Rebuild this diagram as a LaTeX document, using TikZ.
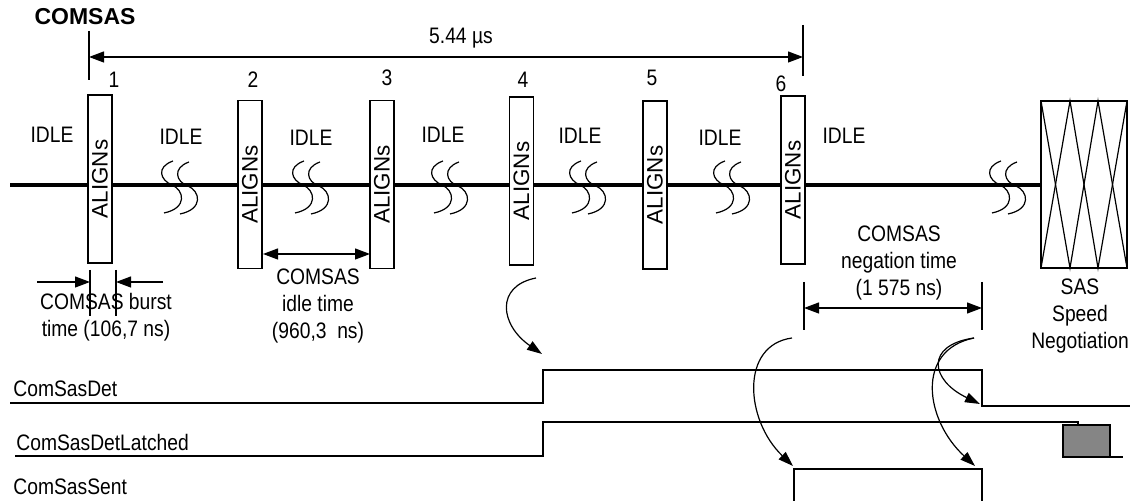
\documentclass[tikz,border=0pt]{standalone}
\usepackage{fontspec}
\setmainfont{Liberation Sans}[FakeStretch=0.86]
\newfontfamily\alignfont{Liberation Sans}
\usepackage{xcolor}
\definecolor{latchGray}{HTML}{858585}
\usetikzlibrary{arrows.meta}

\begin{document}
\begin{tikzpicture}[x=0.5pt, y=-0.5pt, font=\fontsize{11.2}{13.5}\selectfont,
  alignbox/.style={draw, fill=white, rotate=90, minimum width=84pt, minimum height=12pt, inner sep=0pt, line width=0.6pt, font=\alignfont\fontsize{11.2}{13}\selectfont},
  lbl/.style={inner sep=0pt, align=center},
  thin/.style={line width=0.6pt},
  dimarrow/.style={line width=0.6pt, {Triangle[length=7.5pt,width=5.5pt]}-{Triangle[length=7.5pt,width=5.5pt]}},
  inarrow/.style={line width=0.6pt, -{Triangle[length=7.5pt,width=5.5pt]}},
  bendarrow/.style={line width=0.6pt, -{Triangle[length=7.5pt,width=5pt]}},
  signal/.style={line width=0.7pt},
  brk/.pic={
    \draw[line width=0.6pt] (-7,-24) .. controls (-24,-18) and (-20,-5) .. (-8,0) .. controls (4,5) and (8,23) .. (-16,28);
    \draw[line width=0.6pt] (9,-23) .. controls (-8,-17) and (-4,-3) .. (8,1) .. controls (20,6) and (24,24) .. (0,29);
  }]
  \useasboundingbox (0,0) rectangle (1130,501);

  \node[lbl, font=\alignfont\fontsize{11.5}{14}\selectfont\bfseries] (title) at (85,17) {COMSAS};

  \coordinate (t1top) at (89,31);
  \coordinate (t1bot) at (89,80);
  \coordinate (t6top) at (803,25);
  \coordinate (t6bot) at (803,76);
  \coordinate (t1) at (89,57);
  \coordinate (t6) at (803,57);
  \draw[thin] (t1top) -- (t1bot);
  \draw[thin] (t6top) -- (t6bot);
  \draw[dimarrow] (t1) -- (t6);
  \node[lbl] (total) at (461,38) {5.44 µs};

  \coordinate (lineL) at (10,185);
  \coordinate (lineR) at (1041,185);
  \draw[line width=2pt] (lineL) -- (lineR);

  \pic at (180,185) {brk};
  \pic at (311,185) {brk};
  \pic at (450,185) {brk};
  \pic at (588,185) {brk};
  \pic at (732,185) {brk};
  \pic at (1008,185) {brk};

  \node[alignbox] (A1) at (100,179) {ALIGNs};
  \node[alignbox] (A2) at (250,184.5) {ALIGNs};
  \node[alignbox] (A3) at (382,184.5) {ALIGNs};
  \node[alignbox] (A4) at (521.5,181) {ALIGNs};
  \node[alignbox] (A5) at (655,185) {ALIGNs};
  \node[alignbox] (A6) at (793,180) {ALIGNs};

  \node[lbl] (n1) at (114,80) {1};
  \node[lbl] (n2) at (253,80) {2};
  \node[lbl] (n3) at (387,78) {3};
  \node[lbl] (n4) at (523,80) {4};
  \node[lbl] (n5) at (652,78) {5};
  \node[lbl] (n6) at (781,84) {6};

  \node[lbl] (idle0) at (52,135) {IDLE};
  \node[lbl] (idle1) at (181,137) {IDLE};
  \node[lbl] (idle2) at (311,138) {IDLE};
  \node[lbl] (idle3) at (443,135) {IDLE};
  \node[lbl] (idle4) at (580,136) {IDLE};
  \node[lbl] (idle5) at (720,138) {IDLE};
  \node[lbl] (idle6) at (844,136) {IDLE};

  \draw[thin] (1041,101) rectangle (1127,268);
  \draw[thin] (1041,101) -- (1070,268) -- (1098,101) -- (1127,268);
  \draw[thin] (1041,268) -- (1070,101) -- (1098,268) -- (1127,101);
  \node[lbl] (sas) at (1080,316) {SAS\\Speed\\Negotiation};

  \coordinate (b1top) at (90,270);
  \coordinate (b1bot) at (90,316);
  \coordinate (b2top) at (116,270);
  \coordinate (b2bot) at (116,316);
  \coordinate (b1) at (90,282);
  \coordinate (b2) at (116,282);
  \coordinate (b1out) at (37,282);
  \coordinate (b2out) at (163,282);
  \draw[thin] (b1top) -- (b1bot);
  \draw[thin] (b2top) -- (b2bot);
  \draw[inarrow] (b1out) -- (b1);
  \draw[inarrow] (b2out) -- (b2);
  \node[lbl] (burst) at (106,317) {COMSAS burst\\time (106,7 ns)};

  \coordinate (i1) at (263,254);
  \coordinate (i2) at (370,254);
  \draw[dimarrow] (i1) -- (i2);
  \node[lbl] (idle) at (318,306) {COMSAS\\idle time\\(960,3~~ns)};

  \coordinate (g1top) at (804,282);
  \coordinate (g1bot) at (804,330);
  \coordinate (g2top) at (982,282);
  \coordinate (g2bot) at (982,330);
  \coordinate (g1) at (804,308);
  \coordinate (g2) at (982,308);
  \draw[thin] (g1top) -- (g1bot);
  \draw[thin] (g2top) -- (g2bot);
  \draw[dimarrow] (g1) -- (g2);
  \node[lbl] (neg) at (899,263) {COMSAS\\negation time\\(1 575 ns)};

  \node[lbl, anchor=west] (det) at (13,389) {ComSasDet};
  \node[lbl, anchor=west] (latched) at (16,442) {ComSasDetLatched};
  \node[lbl, anchor=west] (sent) at (13,487) {ComSasSent};

  \draw[signal] (10,403) -- (543,403) -- (543,370) -- (982,370) -- (982,406) -- (1130,406);
  \draw[signal] (15,456) -- (543,456) -- (543,422) -- (1078,422) -- (1078,426);
  \draw[signal, fill=latchGray] (1063,425) rectangle (1110,457);
  \draw[signal] (1110,457) -- (1123,457);
  \draw[signal] (794,501) -- (794,469) -- (982,469) -- (982,501);

  \coordinate (c1s) at (536,278);
  \coordinate (c1e) at (542,354);
  \coordinate (c2s) at (792,338);
  \coordinate (c2e) at (793,466);
  \coordinate (c3s) at (974,338);
  \coordinate (c3e) at (980,404);
  \coordinate (c4e) at (975,466);
  \draw[bendarrow] (c1s) .. controls (495,286) and (500,325) .. (c1e);
  \draw[bendarrow] (c2s) .. controls (740,345) and (745,420) .. (c2e);
  \draw[bendarrow] (c3s) .. controls (925,345) and (930,380) .. (c3e);
  \draw[bendarrow] (c3s) .. controls (915,350) and (925,420) .. (c4e);
\end{tikzpicture}
\end{document}
